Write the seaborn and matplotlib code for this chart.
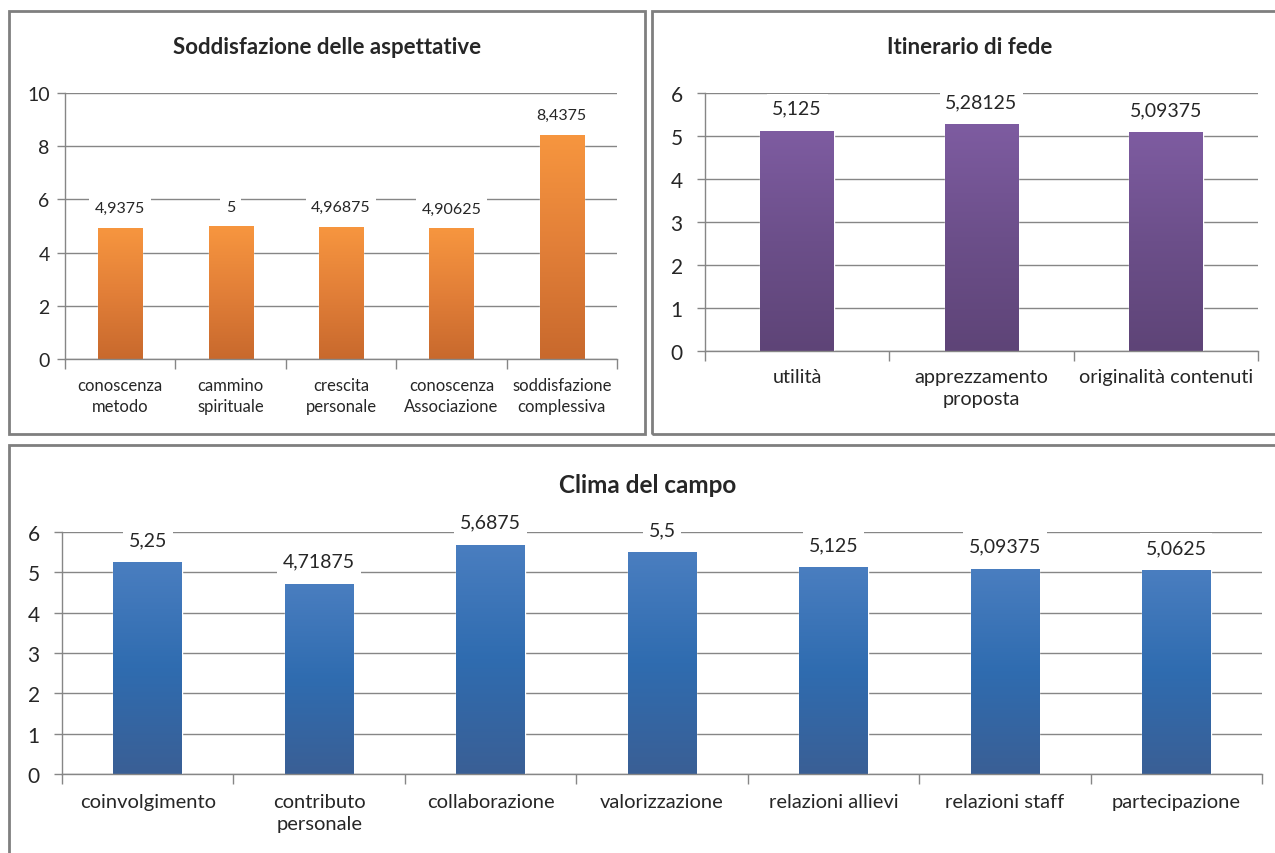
import numpy as np
import pandas as pd
import seaborn as sns
import matplotlib.pyplot as plt
from matplotlib.colors import LinearSegmentedColormap
from matplotlib.patches import Rectangle

sns.set_theme(style='white')
plt.rcParams['font.family'] = ['Lato', 'DejaVu Sans']

# data
asp_labels = ['conoscenza\nmetodo', 'cammino\nspirituale', 'crescita\npersonale',
              'conoscenza\nAssociazione', 'soddisfazione\ncomplessiva']
asp_values = [4.9375, 5, 4.96875, 4.90625, 8.4375]

fede_labels = ['utilità', 'apprezzamento\nproposta', 'originalità contenuti']
fede_values = [5.125, 5.28125, 5.09375]

clima_labels = ['coinvolgimento', 'contributo\npersonale', 'collaborazione', 'valorizzazione',
                'relazioni allievi', 'relazioni staff', 'partecipazione']
clima_values = [5.25, 4.71875, 5.6875, 5.5, 5.125, 5.09375, 5.0625]

W, H = 1275, 854
TXT = '#262626'
GRID = '#868686'
fig = plt.figure(figsize=(W / 100, H / 100), dpi=100)


def px(x0, y0, x1, y1):
    # pixel box -> figure fraction rect
    return [x0 / W, 1 - y1 / H, (x1 - x0) / W, (y1 - y0) / H]


def fmt(v):
    return f'{v:g}'.replace('.', ',')


def panel(rect, labels, values, ymax, step, colors, lab_size, tick_size, ylab_size, lab_pad, xpad, ypad):
    ax = fig.add_axes(rect)
    df = pd.DataFrame({'cat': labels, 'val': values})
    sns.barplot(data=df, x='cat', y='val', ax=ax, width=0.4, color=colors[1], saturation=1)
    # gradient fill clipped to each bar
    cmap = LinearSegmentedColormap.from_list('g', colors)
    grad = np.linspace(0, 1, 256).reshape(-1, 1)
    for bar in ax.patches:
        x0, y0 = bar.get_x(), bar.get_y()
        w, h = bar.get_width(), bar.get_height()
        im = ax.imshow(grad, cmap=cmap, extent=(x0, x0 + w, y0, y0 + h), origin='lower',
                       aspect='auto', zorder=bar.get_zorder() + 0.1)
        im.set_clip_path(bar)
    n = len(labels)
    ax.set_xlim(-0.5, n - 0.5)
    ax.set_ylim(0, ymax)
    ax.set_yticks(np.arange(0, ymax + 0.01, step))
    ax.set_xlabel('')
    ax.set_ylabel('')
    ax.set_axisbelow(True)
    ax.yaxis.grid(True, color=GRID, lw=1)
    for s in ['top', 'right']:
        ax.spines[s].set_visible(False)
    for s in ['left', 'bottom']:
        ax.spines[s].set_color(GRID)
        ax.spines[s].set_linewidth(1)
    ax.set_xticks(np.arange(-0.5, n), minor=True)
    ax.tick_params(axis='x', which='major', length=0, pad=xpad, labelsize=tick_size, labelcolor=TXT)
    ax.tick_params(axis='x', which='minor', length=7, bottom=True, color=GRID, width=1)
    ax.tick_params(axis='y', length=6, left=True, color=GRID, width=1, pad=ypad,
                   labelsize=ylab_size, labelcolor=TXT)
    for t in ax.get_xticklabels():
        t.set_linespacing(1.35)
    ax.bar_label(ax.containers[0], labels=[fmt(v) for v in values], padding=lab_pad,
                 fontsize=lab_size, color=TXT,
                 bbox=dict(facecolor='white', edgecolor='none', pad=4))
    return ax


orange = ['#C8692D', '#E27F38', '#F7963F']
purple = ['#5E4477', '#6C4F8A', '#7E5CA1']
blue = ['#3A5F95', '#2F6CB0', '#4A7EC0']

panel(px(65, 94, 617, 360), asp_labels, asp_values, 10, 2, orange, 11.5, 12, 14, 9, 13, 5)
panel(px(705, 94, 1258, 352), fede_labels, fede_values, 6, 1, purple, 14, 14.3, 15, 10, 12, 10)
panel(px(62, 533, 1262, 775), clima_labels, clima_values, 6, 1, blue, 14, 14.5, 15, 10, 14, 10)

# titles
fig.text(327 / W, 1 - 47 / H, 'Soddisfazione delle aspettative', ha='center', va='center',
         fontsize=16, weight='bold', color=TXT)
fig.text(970 / W, 1 - 47 / H, 'Itinerario di fede', ha='center', va='center',
         fontsize=16, weight='bold', color=TXT)
fig.text(648 / W, 1 - 486 / H, 'Clima del campo', ha='center', va='center',
         fontsize=17.5, weight='bold', color=TXT)

# panel frames
for (x0, y0, x1, y1) in [(9, 12, 645, 435), (652, 12, 1285, 435), (9, 446, 1285, 864)]:
    fig.add_artist(Rectangle((x0 / W, 1 - y1 / H), (x1 - x0) / W, (y1 - y0) / H,
                             transform=fig.transFigure, fill=False, edgecolor='#7F7F7F', lw=2))

fig.savefig('out.png', dpi=100)
